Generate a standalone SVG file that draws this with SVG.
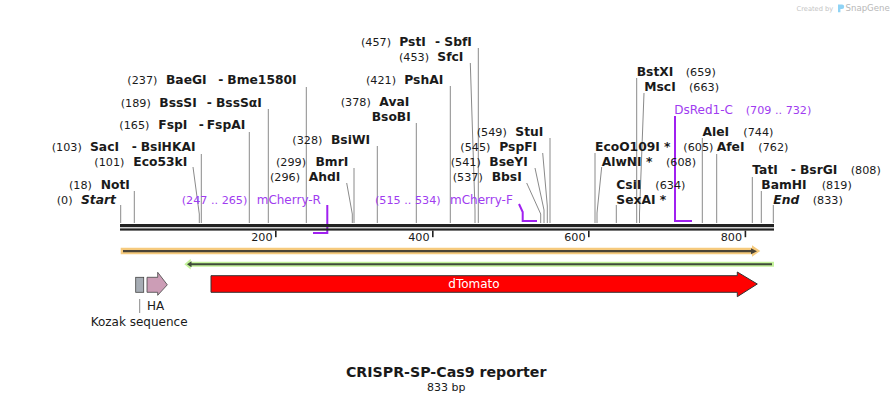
<svg xmlns="http://www.w3.org/2000/svg" width="894" height="403" viewBox="0 0 894 403">
<style>
text{font-family:"DejaVu Sans","Liberation Sans",sans-serif;fill:#1a1a1a}
.n{font-size:11.2px}
.b{font-size:12.3px;font-weight:bold}
.bi{font-size:12.3px;font-weight:bold;font-style:italic}
.p{fill:#a03cf0}
.pn{font-size:11.2px;fill:#a03cf0}
.pl{font-size:12px;fill:#a03cf0}
.f{font-size:12px}
.cut{stroke:#8a8a8a;stroke-width:1;fill:none}
.prm{stroke:#a020f0;stroke-width:2;fill:none}
.wm{fill:#c4c4c4}
</style>
<rect width="894" height="403" fill="#ffffff"/>

<!-- watermark -->
<g id="watermark">
<text x="796.5" y="11" class="wm" style="font-size:6.7px">Created by</text>
<path d="M838,4.5 h4 a2.2,2.2 0 0 1 0,4.4 h-1.6 v3.3 h-2.4 z" fill="#8fd3f5"/>
<text x="845.5" y="11" class="wm" style="font-size:8.6px;fill:#b8b8b8">SnapGene</text>
</g>

<!-- connectors: cut-site leader lines and primer marks -->
<g id="connectors">
<path class="cut" d="M120.7,205V223"/>
<path class="cut" d="M134.3,191V223"/>
<path class="cut" d="M193,167L199.3,214V223"/>
<path class="cut" d="M201.3,154V223"/>
<path class="cut" d="M249.3,132V223"/>
<path class="cut" d="M268.3,109V223"/>
<path class="cut" d="M306.3,87V223"/>
<path class="cut" d="M346.7,183L352.3,214V223"/>
<path class="cut" d="M354,168V223"/>
<path class="cut" d="M377.3,146V223"/>
<path class="cut" d="M416.3,123V223"/>
<path class="cut" d="M450.3,86V223"/>
<path class="cut" d="M470.3,63L475,210V223"/>
<path class="cut" d="M478.3,48V223"/>
<path class="cut" d="M526.7,183L540.7,214V223"/>
<path class="cut" d="M535,168L544,210V223"/>
<path class="cut" d="M542.7,153L547.3,206V223"/>
<path class="cut" d="M550,138V223"/>
<path class="cut" d="M595,153V223"/>
<path class="cut" d="M601.7,167L597,213V223"/>
<path class="cut" d="M616.3,205V223"/>
<path class="cut" d="M636.7,78V223"/>
<path class="cut" d="M644,93L639.5,213V223"/>
<path class="cut" d="M702.3,138V223"/>
<path class="cut" d="M716.7,154V223"/>
<path class="cut" d="M752.3,177V223"/>
<path class="cut" d="M761.3,191V223"/>
<path class="cut" d="M773.3,205V223"/>
<path class="cut" d="M139.7,299V313"/>
<path class="prm" d="M327.3,205V233H313"/>
<path class="prm" d="M519,204L522.7,212V221H537"/>
<path class="prm" d="M675,116V221H692"/>
</g>

<!-- backbone -->
<g id="backbone">
<rect x="120" y="224" width="654" height="3.2" fill="#222"/>
<rect x="120" y="228.4" width="654" height="2.2" fill="#222"/>
<rect x="275" y="230.6" width="1.6" height="6.6" fill="#222"/>
<rect x="432" y="230.6" width="1.6" height="6.6" fill="#222"/>
<rect x="588" y="230.6" width="1.6" height="6.6" fill="#222"/>
<rect x="744.6" y="230.6" width="1.6" height="6.6" fill="#222"/>
<text x="272.5" y="240.5" class="n" text-anchor="end">200</text>
<text x="429.5" y="240.5" class="n" text-anchor="end">400</text>
<text x="585.5" y="240.5" class="n" text-anchor="end">600</text>
<text x="742" y="240.5" class="n" text-anchor="end">800</text>
</g>

<!-- enzyme labels -->
<g id="site-Start"><text x="56.7" y="204" class="n">(0)</text><text x="81" y="204" class="bi">Start</text></g>
<g id="site-NotI"><text x="69" y="189" class="n">(18)</text><text x="100.7" y="189" class="b">NotI</text></g>
<g id="site-Eco53kI"><text x="94.3" y="166" class="n">(101)</text><text x="133.3" y="166" class="b">Eco53kI</text></g>
<g id="site-SacI"><text x="51.7" y="151" class="n">(103)</text><text x="90" y="151" class="b">SacI</text><text x="131.7" y="151" class="b">-</text><text x="140.7" y="151" class="b">BsiHKAI</text></g>
<g id="site-FspI"><text x="119.3" y="129" class="n">(165)</text><text x="158.3" y="129" class="b">FspI</text><text x="198.7" y="129" class="b">-</text><text x="206.7" y="129" class="b">FspAI</text></g>
<g id="site-BssSI"><text x="120.7" y="106.5" class="n">(189)</text><text x="159.3" y="106.5" class="b">BssSI</text><text x="206.7" y="106.5" class="b">-</text><text x="216" y="106.5" class="b">BssSαI</text></g>
<g id="site-BaeGI"><text x="127.3" y="84" class="n">(237)</text><text x="166" y="84" class="b">BaeGI</text><text x="218.3" y="84" class="b">-</text><text x="227.3" y="84" class="b">Bme1580I</text></g>
<g id="site-AhdI"><text x="270" y="181" class="n">(296)</text><text x="308.7" y="181" class="b">AhdI</text></g>
<g id="site-BmrI"><text x="276" y="166" class="n">(299)</text><text x="315.5" y="166" class="b">BmrI</text></g>
<g id="site-BsiWI"><text x="292.3" y="144" class="n">(328)</text><text x="331" y="144" class="b">BsiWI</text></g>
<g id="site-AvaI"><text x="340.7" y="106" class="n">(378)</text><text x="379.3" y="106" class="b">AvaI</text><text x="371.7" y="121" class="b">BsoBI</text></g>
<g id="site-PshAI"><text x="366" y="84" class="n">(421)</text><text x="404.3" y="84" class="b">PshAI</text></g>
<g id="site-SfcI"><text x="399" y="61" class="n">(453)</text><text x="437.3" y="61" class="b">SfcI</text></g>
<g id="site-PstI"><text x="361" y="46" class="n">(457)</text><text x="399.3" y="46" class="b">PstI</text><text x="435" y="46" class="b">-</text><text x="444.3" y="46" class="b">SbfI</text></g>
<g id="site-BbsI"><text x="452.7" y="181" class="n">(537)</text><text x="491.7" y="181" class="b">BbsI</text></g>
<g id="site-BseYI"><text x="450.7" y="166" class="n">(541)</text><text x="489.3" y="166" class="b">BseYI</text></g>
<g id="site-PspFI"><text x="460.3" y="151" class="n">(545)</text><text x="499.3" y="151" class="b">PspFI</text></g>
<g id="site-StuI"><text x="476.7" y="136" class="n">(549)</text><text x="515.3" y="136" class="b">StuI</text></g>
<g id="site-EcoO109I"><text x="595" y="151" class="b">EcoO109I *</text><text x="683.3" y="151" class="n">(605)</text></g>
<g id="site-AlwNI"><text x="601.7" y="166" class="b">AlwNI *</text><text x="666" y="166" class="n">(608)</text></g>
<g id="site-CsiI"><text x="616.3" y="189" class="b">CsiI</text><text x="655.3" y="189" class="n">(634)</text><text x="616.3" y="204" class="b">SexAI *</text></g>
<g id="site-BstXI"><text x="636.7" y="76" class="b">BstXI</text><text x="685.7" y="76" class="n">(659)</text></g>
<g id="site-MscI"><text x="644.3" y="91" class="b">MscI</text><text x="689" y="91" class="n">(663)</text></g>
<g id="site-AleI"><text x="702.5" y="136" class="b">AleI</text><text x="743.3" y="136" class="n">(744)</text></g>
<g id="site-AfeI"><text x="716.7" y="151" class="b">AfeI</text><text x="758.3" y="151" class="n">(762)</text></g>
<g id="site-TatI"><text x="752.3" y="174" class="b">TatI</text><text x="790.7" y="174" class="b">-</text><text x="800" y="174" class="b">BsrGI</text><text x="850.7" y="174" class="n">(808)</text></g>
<g id="site-BamHI"><text x="761.3" y="189" class="b">BamHI</text><text x="821.7" y="189" class="n">(819)</text></g>
<g id="site-End"><text x="773.3" y="204" class="bi">End</text><text x="812.7" y="204" class="n">(833)</text></g>

<!-- primers -->
<g id="primer-mCherry-R"><text x="181.7" y="204" class="pn">(247 .. 265)</text><text x="256.7" y="204" class="pl">mCherry-R</text></g>
<g id="primer-mCherry-F"><text x="375" y="204" class="pn">(515 .. 534)</text><text x="450" y="204" class="pl">mCherry-F</text></g>
<g id="primer-DsRed1-C"><text x="674.3" y="114" class="pl">DsRed1-C</text><text x="745.7" y="114" class="pn">(709 .. 732)</text></g>

<!-- features -->
<g id="feature-orange">
<path d="M120.7,247.7H752V245.3L760.3,251L752,256.7V254.3H120.7Z" fill="#f6ca7d"/>
<path d="M123,250.1H751V248.2L757,251.2L751,254.2V252.3H123Z" fill="#4a4336"/>
</g>
<g id="feature-green">
<path d="M184.3,264.2L190.7,258.8V261.7H774V266.7H190.7V269.6Z" fill="#c3f29a"/>
<path d="M187,264.3L191.5,261.3V263.3H772V265.3H191.5V267.3Z" fill="#3f4a3a"/>
</g>
<g id="feature-Kozak">
<rect x="135.7" y="277.3" width="8" height="15" fill="#a6acb4" stroke="#444" stroke-width="0.8"/>
<text x="90.7" y="326" class="f">Kozak sequence</text>
</g>
<g id="feature-HA">
<path d="M147,277.3H157.7V272.3L167.3,284.8L157.7,295.3V292.3H147Z" fill="#cc9db6" stroke="#444" stroke-width="0.8"/>
<text x="147" y="310" class="f">HA</text>
</g>
<g id="feature-dTomato">
<path d="M211,275.7H737.3V272L757.3,284L737.3,296.7V292.3H211Z" fill="#ff0000" stroke="#333" stroke-width="1"/>
<text x="474" y="288" class="f" text-anchor="middle" style="fill:#ffffff">dTomato</text>
</g>

<!-- title -->
<g id="title">
<text x="446.2" y="377" text-anchor="middle" style="font-size:14.2px;font-weight:bold">CRISPR-SP-Cas9 reporter</text>
<text x="446.2" y="391" text-anchor="middle" class="n" style="font-size:11px">833 bp</text>
</g>
</svg>
